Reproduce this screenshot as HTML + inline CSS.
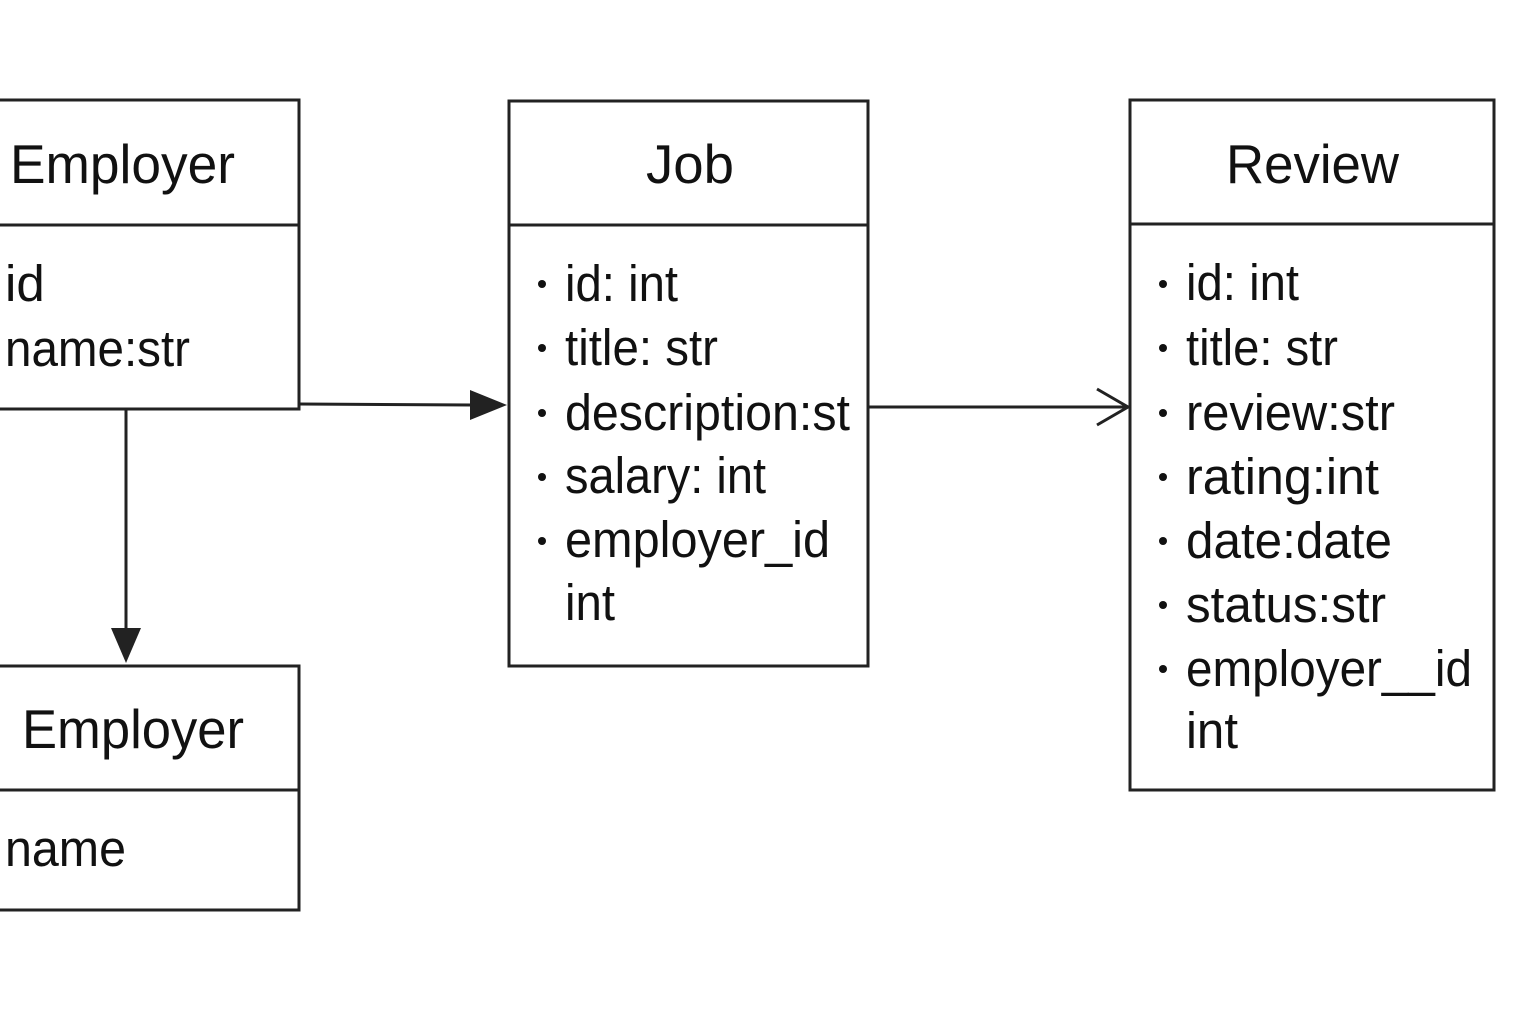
<!DOCTYPE html>
<html><head><meta charset="utf-8"><style>html,body{margin:0;padding:0;background:#fff}svg{display:block}</style></head>
<body>
<svg width="1536" height="1024" viewBox="0 0 1536 1024" xmlns="http://www.w3.org/2000/svg" font-family="Liberation Sans, sans-serif" fill="#111">
<g fill="none" stroke="#222" stroke-width="3">
<rect x="-5" y="100" width="304" height="309"/><line x1="-5" y1="225" x2="299" y2="225"/>
<rect x="509" y="101" width="359" height="565"/><line x1="509" y1="225" x2="868" y2="225"/>
<rect x="1130" y="100" width="364" height="690"/><line x1="1130" y1="224" x2="1494" y2="224"/>
<rect x="-5" y="666" width="304" height="244"/><line x1="-5" y1="790" x2="299" y2="790"/>
<line x1="299" y1="404" x2="472" y2="405"/>
<line x1="868" y1="407" x2="1127" y2="407"/>
<polyline points="1097,389 1128,407 1097,425"/>
<line x1="126" y1="409" x2="126" y2="632"/>
</g>
<polygon points="470,390 507,405 470,420" fill="#222"/>
<polygon points="111,628 141,628 126,663" fill="#222"/>
<g font-size="55" lengthAdjust="spacingAndGlyphs">
<text x="10" y="183" textLength="225" lengthAdjust="spacingAndGlyphs">Employer</text>
<text x="646" y="183" textLength="88" lengthAdjust="spacingAndGlyphs">Job</text>
<text x="1226" y="183" textLength="173" lengthAdjust="spacingAndGlyphs">Review</text>
<text x="22" y="748" textLength="222" lengthAdjust="spacingAndGlyphs">Employer</text>
</g>
<g font-size="51">
<text x="5" y="301">id</text>
<text x="5" y="366" textLength="185" lengthAdjust="spacingAndGlyphs">name:str</text>
<text x="5" y="866" textLength="121" lengthAdjust="spacingAndGlyphs">name</text>
<text x="565" y="301" textLength="113" lengthAdjust="spacingAndGlyphs">id: int</text>
<text x="565" y="365" textLength="153" lengthAdjust="spacingAndGlyphs">title: str</text>
<text x="565" y="430" textLength="285" lengthAdjust="spacingAndGlyphs">description:st</text>
<text x="565" y="493" textLength="201" lengthAdjust="spacingAndGlyphs">salary: int</text>
<text x="565" y="557" textLength="265" lengthAdjust="spacingAndGlyphs">employer_id</text>
<text x="565" y="620" textLength="50" lengthAdjust="spacingAndGlyphs">int</text>
<text x="1186" y="300" textLength="113" lengthAdjust="spacingAndGlyphs">id: int</text>
<text x="1186" y="365" textLength="152" lengthAdjust="spacingAndGlyphs">title: str</text>
<text x="1186" y="430" textLength="209" lengthAdjust="spacingAndGlyphs">review:str</text>
<text x="1186" y="494" textLength="193" lengthAdjust="spacingAndGlyphs">rating:int</text>
<text x="1186" y="558" textLength="206" lengthAdjust="spacingAndGlyphs">date:date</text>
<text x="1186" y="622" textLength="200" lengthAdjust="spacingAndGlyphs">status:str</text>
<text x="1186" y="686" textLength="286" lengthAdjust="spacingAndGlyphs">employer__id</text>
<text x="1186" y="748" textLength="52" lengthAdjust="spacingAndGlyphs">int</text>
</g>
<g>
<circle cx="542" cy="284" r="4"/><circle cx="542" cy="348" r="4"/><circle cx="542" cy="413" r="4"/><circle cx="542" cy="477" r="4"/><circle cx="542" cy="541" r="4"/>
<circle cx="1163" cy="284" r="4"/><circle cx="1163" cy="348" r="4"/><circle cx="1163" cy="413" r="4"/><circle cx="1163" cy="477" r="4"/><circle cx="1163" cy="541" r="4"/><circle cx="1163" cy="605" r="4"/><circle cx="1163" cy="669" r="4"/>
</g>
</svg>
</body></html>
